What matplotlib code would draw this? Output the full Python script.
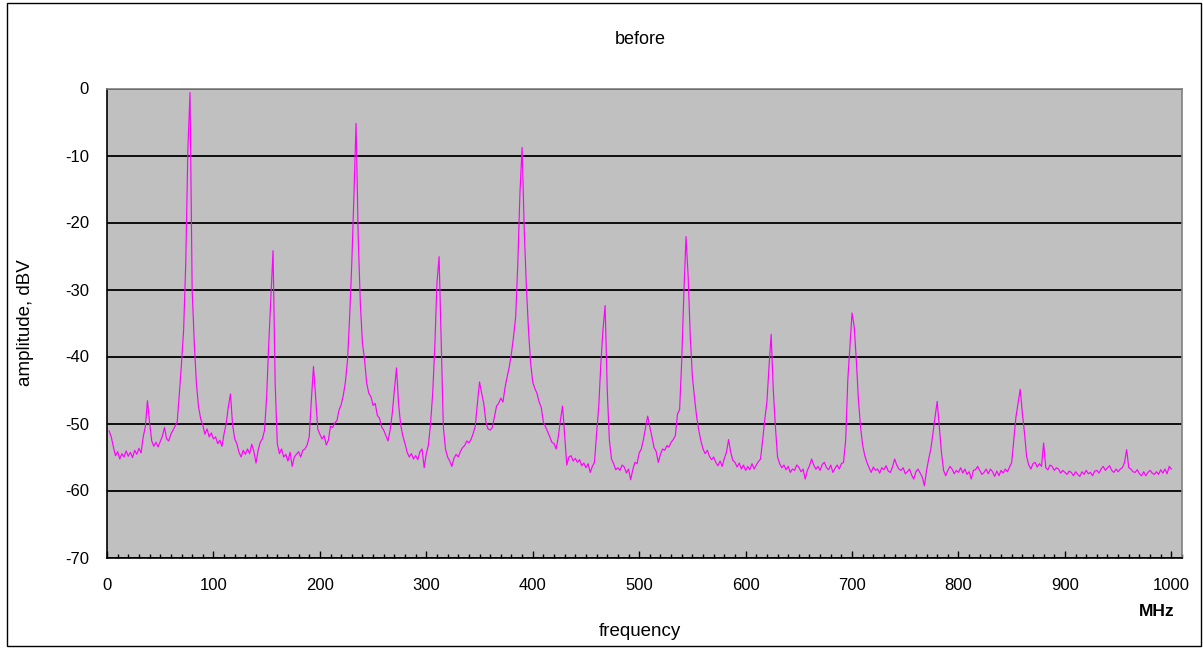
import numpy as np
import matplotlib
matplotlib.use("Agg")
import matplotlib.pyplot as plt
from matplotlib.patches import Rectangle
from matplotlib.ticker import MultipleLocator

plt.rcParams["axes.unicode_minus"] = False

# spectrum, one value every 2 MHz (2 ... 1000 MHz)
freq_mhz = list(range(2, 1001, 2))
amp_dbv = [
    -51.1, -52.0, -53.5, -54.8, -54.2, -55.3, -54.5, -55.0, -54.1, -54.9,   # 2-20
    -54.3, -55.1, -54.0, -54.6, -53.7, -54.4, -52.0, -50.5, -46.6, -49.8,   # 22-40
    -52.6, -53.4, -52.8, -53.5, -52.7, -51.9, -50.6, -52.3, -52.6, -51.6,   # 42-60
    -51.0, -50.4, -49.7, -45.5, -41.0, -36.0, -26.0, -9.0, -0.6, -30.0,     # 62-80
    -38.0, -44.0, -47.5, -49.3, -50.2, -51.6, -50.8, -52.0, -51.4, -52.3,   # 82-100
    -52.0, -53.0, -52.5, -53.4, -51.5, -50.0, -47.5, -45.6, -50.2, -52.3,   # 102-120
    -53.0, -54.3, -55.0, -54.0, -54.6, -53.8, -54.5, -53.1, -54.2, -55.9,   # 122-140
    -54.0, -52.8, -52.3, -51.0, -46.0, -38.0, -31.0, -24.2, -44.0, -53.0,   # 142-160
    -54.5, -53.8, -55.0, -54.6, -55.6, -54.3, -56.4, -55.0, -54.6, -54.2,   # 162-180
    -55.0, -54.0, -53.8, -53.2, -52.0, -46.5, -41.5, -46.0, -50.8, -51.6,   # 182-200
    -52.3, -51.8, -53.2, -52.5, -50.4, -50.6, -49.9, -49.6, -48.0, -47.2,   # 202-220
    -45.8, -43.8, -40.5, -34.0, -26.0, -16.0, -5.2, -22.0, -32.0, -38.0,    # 222-240
    -40.5, -44.0, -45.5, -46.0, -47.3, -47.0, -48.8, -49.2, -50.5, -51.0,   # 242-260
    -51.8, -52.6, -51.0, -48.5, -45.0, -41.7, -47.2, -50.3, -51.9, -53.0,   # 262-280
    -54.3, -55.0, -54.5, -55.3, -54.8, -55.4, -54.2, -53.8, -56.6, -54.5,   # 282-300
    -53.2, -50.0, -45.5, -38.5, -29.0, -25.1, -38.0, -50.5, -53.8, -55.0,   # 302-320
    -55.6, -56.4, -55.2, -54.6, -55.0, -54.2, -53.6, -53.3, -52.6, -52.9,   # 322-340
    -52.4, -51.5, -50.4, -47.0, -43.8, -45.5, -47.0, -49.8, -50.8, -51.0,   # 342-360
    -50.6, -49.0, -47.4, -47.0, -46.2, -46.8, -44.6, -43.0, -41.5, -39.5,   # 362-380
    -37.0, -34.0, -26.0, -15.5, -8.8, -21.0, -29.5, -36.0, -41.0, -43.8,    # 382-400
    -44.8, -45.5, -46.8, -47.6, -49.8, -50.5, -51.2, -52.0, -52.8, -53.0,   # 402-420
    -53.8, -52.0, -49.5, -47.4, -51.9, -56.2, -55.0, -54.8, -55.6, -55.2,   # 422-440
    -55.8, -55.4, -56.3, -55.9, -56.6, -56.0, -57.3, -56.4, -55.8, -51.5,   # 442-460
    -47.5, -41.0, -36.0, -32.4, -45.0, -52.5, -55.3, -56.0, -56.9, -56.6,   # 462-480
    -57.0, -56.2, -56.5, -57.4, -56.8, -58.4, -56.9, -55.8, -56.0, -54.4,   # 482-500
    -53.8, -52.4, -50.6, -48.9, -50.5, -52.0, -53.6, -54.2, -55.8, -54.6,   # 502-520
    -53.8, -54.0, -53.3, -53.5, -52.8, -52.4, -51.8, -48.6, -47.9, -40.5,   # 522-540
    -30.5, -22.1, -28.0, -37.0, -43.0, -46.2, -49.0, -51.0, -52.6, -53.8,   # 542-560
    -54.5, -54.0, -54.9, -55.4, -55.0, -55.8, -56.3, -55.6, -56.4, -55.2,   # 562-580
    -54.3, -52.4, -54.3, -55.5, -55.8, -56.5, -55.9, -56.8, -56.2, -57.0,   # 582-600
    -56.4, -56.9, -56.0, -56.8, -56.2, -55.7, -55.3, -52.5, -49.4, -46.8,   # 602-620
    -41.5, -36.7, -45.0, -50.5, -55.0, -56.0, -56.6, -56.2, -56.9, -56.4,   # 622-640
    -57.3, -56.8, -57.0, -56.2, -56.5, -57.2, -56.8, -58.3, -57.0, -56.3,   # 642-660
    -55.3, -56.2, -56.8, -56.4, -57.0, -56.1, -55.8, -56.6, -56.9, -56.2,   # 662-680
    -57.3, -56.7, -56.2, -56.8, -56.0, -55.8, -52.5, -43.5, -38.5, -33.5,   # 682-700
    -35.5, -40.5, -46.5, -50.5, -53.3, -54.8, -55.8, -56.6, -57.3, -56.5,   # 702-720
    -57.0, -56.8, -57.4, -56.6, -56.9, -56.3, -57.1, -57.3, -56.5, -55.3,   # 722-740
    -56.2, -56.8, -57.0, -56.6, -57.5, -57.2, -56.8, -57.7, -58.3, -57.2,   # 742-760
    -56.8, -57.4, -58.0, -59.3, -57.0, -55.3, -53.8, -51.5, -49.0, -46.7,   # 762-780
    -50.5, -54.3, -57.0, -57.8, -57.0, -56.4, -56.8, -57.5, -57.0, -57.3,   # 782-800
    -56.6, -57.4, -56.8, -57.6, -57.2, -58.3, -57.0, -56.9, -56.4, -57.0,   # 802-820
    -57.6, -57.3, -56.8, -57.5, -56.8, -57.2, -57.9, -57.1, -57.8, -57.0,   # 822-840
    -57.4, -56.8, -57.2, -56.5, -55.8, -52.4, -49.0, -47.0, -44.9, -48.4,   # 842-860
    -51.4, -54.9, -56.2, -56.8, -56.0, -55.8, -56.5, -56.0, -56.4, -52.9,   # 862-880
    -56.6, -56.9, -56.2, -56.4, -57.0, -56.6, -56.8, -57.4, -57.0, -57.3,   # 882-900
    -57.6, -57.1, -57.3, -57.8, -57.2, -57.6, -57.9, -57.2, -57.6, -57.0,   # 902-920
    -57.5, -57.3, -57.8, -57.1, -57.0, -57.4, -56.8, -56.4, -57.0, -56.6,   # 922-940
    -56.3, -57.0, -57.3, -56.8, -57.2, -56.8, -56.6, -55.8, -53.9, -56.6,   # 942-960
    -56.8, -57.2, -57.3, -56.9, -57.5, -57.8, -57.2, -57.8, -57.3, -57.0,   # 962-980
    -57.4, -57.6, -57.2, -57.6, -56.9, -57.4, -56.8, -57.5, -56.4, -56.8,   # 982-1000
]

W, H = 1203, 648
fig = plt.figure(figsize=(W / 100, H / 100), dpi=100, facecolor="white")

# chart border (Excel chart area frame)
fig.patches.append(Rectangle((7 / W, 2 / H), (1201 - 7) / W, (646 - 3) / H,
                             transform=fig.transFigure, fill=False,
                             edgecolor="black", linewidth=1.0))

ax = fig.add_axes([107 / W, 1 - 557.5 / H, (1182 - 107) / W, (557.5 - 88.5) / H])
ax.set_facecolor("#c0c0c0")

ax.plot(freq_mhz, amp_dbv, color="#ff00ff", linewidth=0.85, zorder=3)

ax.set_xlim(0, 1010)
ax.set_ylim(-70, 0)
ax.set_yticks(range(-70, 1, 10))
ax.set_xticks(range(0, 1001, 100))
ax.xaxis.set_minor_locator(MultipleLocator(10))
ax.grid(axis="y", color="black", linewidth=1.3, zorder=1)

for side in ("top", "right"):
    ax.spines[side].set_color("#808080")
    ax.spines[side].set_linewidth(1.2)
for side in ("left", "bottom"):
    ax.spines[side].set_color("black")
    ax.spines[side].set_linewidth(1.2)

font = "Liberation Sans"
ax.tick_params(axis="x", which="major", direction="in", length=5, width=1,
               pad=15, labelsize=12, colors="black")
ax.tick_params(axis="x", which="minor", direction="in", length=3, width=1)
ax.tick_params(axis="y", length=0, pad=13, labelsize=12)
for lbl in ax.get_xticklabels() + ax.get_yticklabels():
    lbl.set_fontfamily(font)

fig.text(640 / W, 1 - 40 / H, "before", ha="center", va="center",
         fontsize=13, family=font)
fig.text(25 / W, 1 - 323 / H, "amplitude, dBV", ha="center", va="center",
         rotation=90, fontsize=13.5, family=font)
fig.text(640 / W, 1 - 631 / H, "frequency", ha="center", va="center",
         fontsize=13.5, family=font)
fig.text(1157 / W, 1 - 611 / H, "MHz", ha="center", va="center",
         fontsize=12.5, fontweight="bold", family=font)

fig.savefig("out.png", dpi=100, facecolor="white")
